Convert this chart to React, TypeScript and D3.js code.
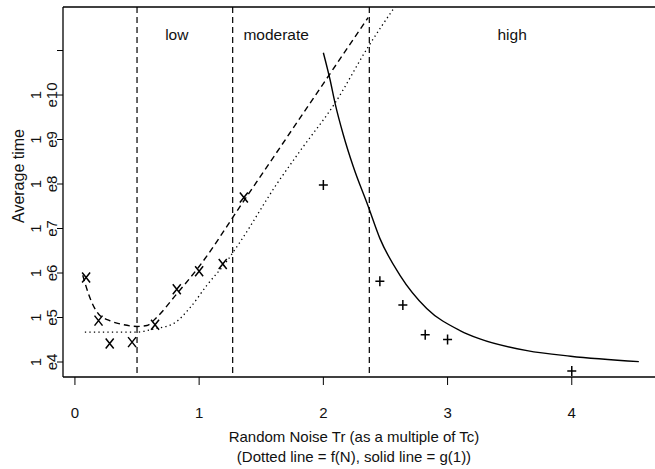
import React from "react";
import * as d3 from "d3";

// ---- data ----
const xTickValues = [0, 1, 2, 3, 4];
const yTickDecades = [4, 5, 6, 7, 8, 9, 10, 11];
const yLabelDecades = [4, 5, 6, 7, 8, 9, 10];
const regimeBoundaries = [0.5, 1.27, 2.37];
const regimeNames = ["low", "moderate", "high"];
const regimeLabelX = [0.82, 1.62, 3.52];

// observed points, "x" markers
const crossNoise = [0.09, 0.19, 0.28, 0.46, 0.645, 0.82, 1.0, 1.19, 1.36];
const crossTime = [7.9e5, 8.5e4, 2.6e4, 2.8e4, 6.9e4, 4.3e5, 1.1e6, 1.6e6, 5.0e7];

// observed points, "+" markers
const plusNoise = [2.0, 2.455, 2.64, 2.82, 3.0, 4.0];
const plusTime = [9.5e7, 6.5e5, 1.9e5, 4.1e4, 3.2e4, 6.3e3];

// dashed fitted curve
const dashedNoise = [0.063, 0.12, 0.19, 0.28, 0.39, 0.5, 0.58, 0.66, 0.82, 1.0, 1.36, 2.36];
const dashedTime = [8.9e5, 2.8e5, 1.2e5, 8.5e4, 6.9e4, 6.3e4, 6.6e4, 1.02e5, 3.4e5, 1.4e6, 4.2e7, 5.5e11];

// dotted line f(N)
const dottedNoise = [0.08, 0.5, 0.63, 0.79, 0.93, 1.06, 1.22, 1.33, 1.625, 1.81, 2.094, 2.36, 2.59];
const dottedTime = [4.7e4, 4.7e4, 5.5e4, 7.2e4, 1.7e5, 5.2e5, 1.8e6, 5.0e6, 1.0e8, 5.4e8, 6.6e9, 1.2e11, 1.1e12];

// solid line g(1)
const solidNoise = [2.0, 2.054, 2.094, 2.16, 2.24, 2.36, 2.455, 2.617, 2.832, 3.1, 3.26, 3.64, 3.99, 4.54];
const solidTime = [8.9e10, 2.2e10, 6.6e9, 1.3e9, 2.5e8, 3.2e7, 6.0e6, 8.9e5, 1.6e5, 5.1e4, 3.3e4, 1.8e4, 1.35e4, 1.02e4];

const W = 655;
const H = 469;
const left = 63;
const right = 655;
const top = 7;
const bottom = 377;
const FONT = "'Liberation Sans', Arial, Helvetica, sans-serif";
const FS = 15;

export default function App() {
  const x = d3.scaleLinear().domain([-0.096, 4.67]).range([left, right]);
  const y = d3
    .scaleLog()
    .domain([Math.pow(10, 3.663), Math.pow(10, 11.978)])
    .range([bottom, top]);

  const mk = (xs: number[], ys: number[]) =>
    d3
      .line<number>()
      .x((_, i) => x(xs[i]))
      .y((_, i) => y(ys[i]))
      .curve(d3.curveMonotoneX)(xs as any) as string;

  return (
    <svg
      width={W}
      height={H}
      style={{ position: "absolute", left: 0, top: 0, background: "#fff" }}
      fontFamily={FONT}
      fill="#111"
    >
      <defs>
        <clipPath id="plot">
          <rect x={left} y={top} width={right - left} height={bottom - top} />
        </clipPath>
      </defs>
      <rect x={0} y={0} width={W} height={H} fill="#fff" />

      {/* frame */}
      <line x1={left} x2={right} y1={top} y2={top} stroke="#000" strokeWidth={1.3} />
      <line x1={left} x2={left} y1={top} y2={bottom} stroke="#000" strokeWidth={1.3} />
      <line x1={left} x2={right} y1={bottom} y2={bottom} stroke="#000" strokeWidth={1.3} />

      {/* x ticks */}
      {xTickValues.map((v) => (
        <g key={"xt" + v}>
          <line x1={x(v)} x2={x(v)} y1={bottom} y2={bottom + 8} stroke="#000" strokeWidth={1} />
          <text x={x(v)} y={418} textAnchor="middle" fontSize={FS}>
            {v}
          </text>
        </g>
      ))}

      {/* y ticks */}
      {yTickDecades.map((d) => (
        <line
          key={"yt" + d}
          x1={left - 6}
          x2={left}
          y1={y(Math.pow(10, d))}
          y2={y(Math.pow(10, d))}
          stroke="#000"
          strokeWidth={1}
        />
      ))}
      {yLabelDecades.map((d) => {
        const yy = y(Math.pow(10, d));
        return (
          <g key={"yl" + d}>
            <text
              transform={`translate(35,${yy}) rotate(-90)`}
              textAnchor="middle"
              dominantBaseline="central"
              fontSize={FS}
            >
              1
            </text>
            <text
              transform={`translate(51,${yy}) rotate(-90)`}
              textAnchor="middle"
              dominantBaseline="central"
              fontSize={FS}
            >
              {"e" + d}
            </text>
          </g>
        );
      })}

      {/* axis titles */}
      <text
        transform={`translate(18,176) rotate(-90)`}
        textAnchor="middle"
        dominantBaseline="central"
        fontSize={16}
      >
        Average time
      </text>
      <text x={354} y={442} textAnchor="middle" fontSize={FS}>
        Random Noise Tr (as a multiple of Tc)
      </text>
      <text x={354} y={462} textAnchor="middle" fontSize={FS}>
        (Dotted line = f(N), solid line = g(1))
      </text>

      <g clipPath="url(#plot)">
        {/* regime boundaries */}
        {regimeBoundaries.map((b, i) => (
          <line
            key={"rb" + i}
            x1={x(b)}
            x2={x(b)}
            y1={top}
            y2={bottom}
            stroke="#000"
            strokeWidth={1.2}
            strokeDasharray="6 4"
          />
        ))}

        {/* curves */}
        <path d={mk(dashedNoise, dashedTime)} fill="none" stroke="#000" strokeWidth={1.4} strokeDasharray="6 4" />
        <path d={mk(dottedNoise, dottedTime)} fill="none" stroke="#000" strokeWidth={1.3} strokeDasharray="1.3 3.2" />
        <path d={mk(solidNoise, solidTime)} fill="none" stroke="#000" strokeWidth={1.4} />

        {/* markers */}
        {crossNoise.map((n, i) => {
          const cx = x(n);
          const cy = y(crossTime[i]);
          return (
            <path
              key={"cx" + i}
              d={`M${cx - 4},${cy - 5}L${cx + 4},${cy + 5}M${cx + 4},${cy - 5}L${cx - 4},${cy + 5}`}
              stroke="#000"
              strokeWidth={1.5}
              fill="none"
            />
          );
        })}
        {plusNoise.map((n, i) => {
          const cx = x(n);
          const cy = y(plusTime[i]);
          return (
            <path
              key={"px" + i}
              d={`M${cx - 4.5},${cy}L${cx + 4.5},${cy}M${cx},${cy - 5}L${cx},${cy + 5}`}
              stroke="#000"
              strokeWidth={1.5}
              fill="none"
            />
          );
        })}
      </g>

      {/* regime labels */}
      {regimeNames.map((nm, i) => (
        <text key={nm} x={x(regimeLabelX[i])} y={40} textAnchor="middle" fontSize={15.5}>
          {nm}
        </text>
      ))}
    </svg>
  );
}
